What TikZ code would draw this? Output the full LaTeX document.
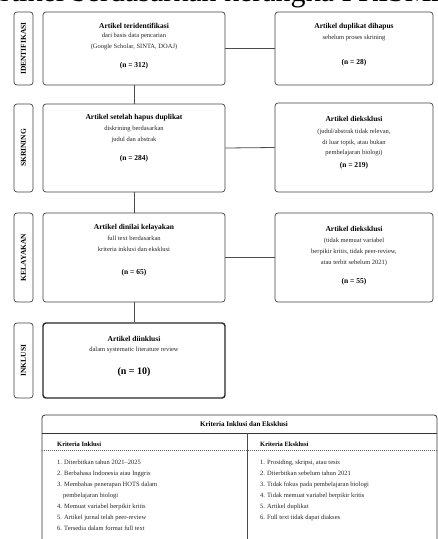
\documentclass[tikz,border=0pt]{standalone}
\usepackage{fontspec}
\setmainfont{Liberation Serif}
\begin{document}
\begin{tikzpicture}[x=1pt,y=-1pt,
  stagebox/.style={draw=black!75,line width=0.7pt,rounded corners=3pt},
  mainbox/.style={draw=black!75,line width=0.7pt,rounded corners=3pt},
  finalbox/.style={draw=black!85,line width=1.4pt,rounded corners=3pt},
  stagelbl/.style={rotate=90,font=\fontsize{7.5}{8}\selectfont\bfseries,inner sep=0pt},
  ttl/.style={font=\fontsize{7.5}{9}\selectfont\bfseries,inner sep=0pt},
  sub/.style={font=\fontsize{6.5}{11}\selectfont,align=center,inner sep=0pt,text=black!85},
  cnt/.style={font=\fontsize{7.5}{9}\selectfont\bfseries,inner sep=0pt},
  conn/.style={draw=black!70,line width=0.8pt},
  item/.style={font=\fontsize{6.5}{8}\selectfont,anchor=base west,inner sep=0pt,text=black!85}
]
\useasboundingbox (0,0) rectangle (438,539);
\node[anchor=base west,font=\fontsize{30}{32}\selectfont,inner sep=0pt] (title) at (-21,1) {Artikel berdasarkan kerangka PRISMA};

% stage labels
\draw[stagebox] (14,12) rectangle (33,85); \node[stagelbl] (s1) at (23.5,48.5) {IDENTIFIKASI};
\draw[stagebox] (14,104) rectangle (33,192); \node[stagelbl] (s2) at (23.5,148) {SKRINING};
\draw[stagebox] (14,213) rectangle (33,302); \node[stagelbl] (s3) at (23.5,257.5) {KELAYAKAN};
\draw[stagebox] (14,323) rectangle (33,398); \node[stagelbl] (s4) at (23.5,360.5) {INKLUSI};

% main boxes
\node[mainbox,minimum width=182pt,minimum height=73pt] (b1) at (134,48.5) {};
\node[mainbox,minimum width=182pt,minimum height=88pt] (b2) at (134,148) {};
\node[mainbox,minimum width=182pt,minimum height=89pt] (b3) at (134,257.5) {};
\node[finalbox,minimum width=182pt,minimum height=75pt] (b4) at (134,360.5) {};

\node[mainbox,minimum width=158pt,minimum height=73pt] (r1) at (354,48.5) {};
\node[mainbox,minimum width=158pt,minimum height=89pt] (r2) at (354,147.5) {};
\node[mainbox,minimum width=158pt,minimum height=89pt] (r3) at (354,257.5) {};

% texts in main boxes
\node[ttl] (t1) at (134,26) {Artikel teridentifikasi};
\node[sub,anchor=north] (d1) at (134,33) {dari basis data pencarian\\(Google Scholar, SINTA, DOAJ)};
\node[cnt] (n1) at (134,66) {(n = 312)};

\node[ttl] (t2) at (134,118) {Artikel setelah hapus duplikat};
\node[sub,anchor=north] (d2) at (134,126) {diskrining berdasarkan\\judul dan abstrak};
\node[cnt] (n2) at (134,159) {(n = 284)};

\node[ttl] (t3) at (134,228) {Artikel dinilai kelayakan};
\node[sub,anchor=north] (d3) at (134,236) {full text berdasarkan\\kriteria inklusi dan eksklusi};
\node[cnt] (n3) at (134,273) {(n = 65)};

\node[ttl] (t4) at (134,339) {Artikel diinklusi};
\node[sub,anchor=north] (d4) at (134,347) {dalam systematic literature review};
\node[cnt,font=\fontsize{10}{12}\selectfont\bfseries] (n4) at (134,372) {(n = 10)};

\node[ttl] (u1) at (354,27) {Artikel duplikat dihapus};
\node[sub,anchor=north] (e1) at (354,35) {sebelum proses skrining};
\node[cnt] (m1) at (354,63) {(n = 28)};

\node[ttl] (u2) at (354,119) {Artikel dieksklusi};
\node[sub,anchor=north,font=\fontsize{6.5}{10.5}\selectfont] (e2) at (354,129) {(judul/abstrak tidak relevan,\\di luar topik, atau bukan\\pembelajaran biologi)};
\node[cnt] (m2) at (354,166) {(n = 219)};

\node[ttl] (u3) at (354,229) {Artikel dieksklusi};
\node[sub,anchor=north,font=\fontsize{6.5}{11}\selectfont] (e3) at (354,238) {(tidak memuat variabel\\berpikir kritis, tidak peer-review,\\atau terbit sebelum 2021)};
\node[cnt] (m3) at (354,282) {(n = 55)};

% connectors
\draw[conn] (b1.south) -- (b2.north);
\draw[conn] (b2.south) -- (b3.north);
\draw[conn] (b3.south) -- (b4.north);
\draw[conn] (b1.east) -- (r1.west);
\draw[conn] (b2.east) -- (r2.west);
\draw[conn] (b3.east) -- (r3.west);

% table
\draw[draw=black!80,line width=0.8pt,rounded corners=3pt] (42,560) -- (42,415) -- (437,415) -- (437,560);
\draw[black!80,line width=0.7pt] (42,433) -- (437,433);
\draw[black!70,line width=0.6pt] (247,433) -- (247,560);
\draw[black!60,line width=0.4pt,dash pattern=on 1pt off 1pt] (42,450) -- (437,450);
\node[font=\fontsize{7}{8}\selectfont\bfseries,inner sep=0pt] (th) at (244,424) {Kriteria Inklusi dan Eksklusi};
\node[font=\fontsize{6.5}{8}\selectfont\bfseries,anchor=base west,inner sep=0pt] (ci) at (57,446) {Kriteria Inklusi};
\node[font=\fontsize{6.5}{8}\selectfont\bfseries,anchor=base west,inner sep=0pt] (ce) at (260,446) {Kriteria Eksklusi};

\node[item] (i1) at (57,464) {1. Diterbitkan tahun 2021--2025};
\node[item] (i2) at (57,475) {2. Berbahasa Indonesia atau Inggris};
\node[item] (i3) at (57,486) {3. Membahas penerapan HOTS dalam};
\node[item] (i3b) at (63,497) {pembelajaran biologi};
\node[item] (i4) at (57,508.5) {4. Memuat variabel berpikir kritis};
\node[item] (i5) at (57,519.5) {5. Artikel jurnal telah peer-review};
\node[item] (i6) at (57,530.5) {6. Tersedia dalam format full text};

\node[item] (x1) at (260,464) {1. Prosiding, skripsi, atau tesis};
\node[item] (x2) at (260,475) {2. Diterbitkan sebelum tahun 2021};
\node[item] (x3) at (260,486) {3. Tidak fokus pada pembelajaran biologi};
\node[item] (x4) at (260,497) {4. Tidak memuat variabel berpikir kritis};
\node[item] (x5) at (260,508.5) {5. Artikel duplikat};
\node[item] (x6) at (260,519.5) {6. Full text tidak dapat diakses};
\end{tikzpicture}
\end{document}
